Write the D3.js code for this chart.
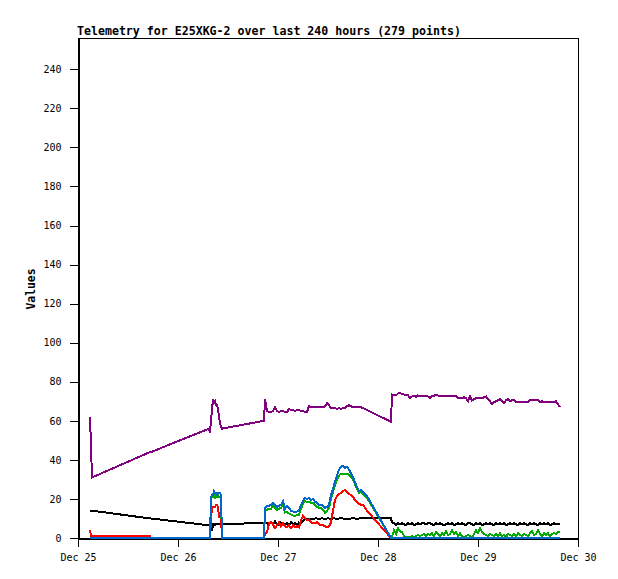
<!DOCTYPE html>
<html>
<head>
<meta charset="utf-8">
<script src="https://cdn.jsdelivr.net/npm/d3@7"></script>
<style>
  html, body { margin: 0; padding: 0; background: #fff; }
  svg { display: block; }
  .tick text { font-family: "DejaVu Sans Mono", monospace; font-size: 10px; fill: #000; }
</style>
</head>
<body>
<svg id="chart" width="618" height="579"></svg>
<script>
// ---- data (hours since Dec 25 00:00 UTC) ----
const hours = [
  2.88, 3.12, 3.36, 17.28, 17.52, 31.44, 31.68, 31.92, 32.16, 32.4,
  32.64, 32.88, 33.12, 33.36, 33.6, 33.84, 34.08, 34.32, 34.56, 44.64,
  44.88, 45.36, 45.84, 46.32, 46.8, 47.28, 47.76, 48.24, 48.72, 49.2,
  49.68, 50.16, 50.64, 51.12, 51.6, 52.08, 52.56, 53.04, 53.52, 54.0,
  54.48, 54.96, 55.44, 55.92, 56.4, 56.88, 57.36, 57.84, 58.32, 58.8,
  59.28, 59.76, 60.24, 60.72, 61.2, 61.68, 62.16, 62.64, 63.12, 63.6,
  64.08, 64.56, 65.04, 65.52, 66.0, 66.48, 66.96, 67.44, 67.92, 68.4,
  68.88, 69.36,
  75.12,
  75.36, 75.84, 76.32, 76.8, 77.28, 77.76, 78.24, 78.72, 79.2, 79.68,
  80.16, 80.64, 81.12, 81.6, 82.08, 82.56, 83.04, 83.52, 84.0, 84.48,
  84.96, 85.44, 85.92, 86.4, 86.88, 87.36, 87.84, 88.32, 88.8, 89.28,
  89.76, 90.24, 90.72, 91.2, 91.68, 92.16, 92.64, 93.12, 93.6, 94.08,
  94.56, 95.04, 95.52, 96.0, 96.48, 96.96, 97.44, 97.92, 98.4, 98.88,
  99.36, 99.84, 100.32, 100.8, 101.28, 101.76, 102.24, 102.72, 103.2, 103.68,
  104.16, 104.64, 105.12, 105.6, 106.08, 106.56, 107.04, 107.52, 108.0, 108.48,
  108.96, 109.44, 109.92, 110.4, 110.88, 111.36, 111.84, 112.32, 112.8, 113.28,
  113.76, 114.24, 114.72, 115.2, 115.68
];

const purpleSeries = [
  62, 47, 31, 44, 44, 56, 54, 60, 66, 71,
  69, 70, 68, 68, 66, 62, 59, 57, 56, 60,
  71, 65, 64.5, 64.5, 65, 67, 65, 64.5, 65, 65,
  64.5, 64.5, 66, 65.5, 65.5, 65, 65.5, 65.5, 65, 65,
  64.5, 64.5, 67.5, 67, 67, 67, 67, 67, 67, 67,
  67.5, 69, 68, 66.5, 66.5, 66.5, 66, 66.5, 66, 66.5,
  66.5, 67.5, 68, 67.5, 67, 67, 67, 67, 67, 66.5,
  66, 65.5,
  59.5,
  73.5, 73, 73, 74, 74.5, 73.5, 73.5, 73, 73, 71.5,
  72.5, 73, 72, 73, 72.5, 73, 72.5, 73, 72.5, 71.5,
  72.5, 72.5, 73.5, 73, 72.5, 73, 72.5, 72.5, 72.5, 72.5,
  72.5, 72.5, 72.5, 71.5, 71.5, 71.5, 72, 71.5, 70, 72.5,
  70.5, 71, 71.5, 71.5, 71.5, 71.5, 72, 72.5, 71, 70,
  68.5, 69.5, 70, 70.5, 71, 70, 69, 70.5, 71, 70,
  70.5, 70.5, 69.5, 69.5, 69.5, 69.5, 69.5, 69.5, 69.5, 70.5,
  70.5, 70.5, 70.5, 70.5, 69.5, 70, 69.5, 69.5, 69.5, 69.5,
  69.5, 69.5, 70, 68.5, 67
];

const blueSeries = [
  0, 0, 0, 0, 0, 0, 0, 21, 22, 22,
  24, 23, 23, 22, 23, 23, 23, 22, 0, 0,
  15.5, 16.5, 16.5, 17, 18, 17, 16, 16.5, 17, 19,
  15, 16.5, 15.5, 14, 13.5, 13.5, 13.5, 14, 17, 19,
  20.5, 20, 20.5, 19.5, 20, 18.5, 18, 17, 17, 16.5,
  15.5, 16, 17, 22, 25, 29, 32, 35, 36.5, 37,
  36, 36.5, 35, 33, 31, 28.5, 26, 24, 24.5, 23.5,
  22.5, 21.5,
  0,
  0, 0, 0, 0, 0, 0, 0, 0, 0, 0,
  0, 0, 0, 0, 0, 0, 0, 0, 0, 0,
  0, 0, 0, 0, 0, 0, 0, 0, 0, 0,
  0, 0, 0, 0, 0, 0, 0, 0, 0, 0,
  0, 0, 0, 0, 0, 0, 0, 0, 0, 0,
  0, 0, 0, 0, 0, 0, 0, 0, 0, 0,
  0, 0, 0, 0, 0, 0, 0, 0, 0, 0,
  0, 0, 0, 0, 0, 0, 0, 0, 0, 0,
  0, 0, 0, 0, 0
];

const greenSeries = [
  0, 0, 0, 0, 0, 0, 0, 20, 21, 21,
  22, 20, 22, 21, 22, 21, 21, 20, 0, 0,
  14, 14.5, 15, 15, 16.5, 15.5, 14.5, 15, 15.5, 17,
  13, 13.5, 12.5, 12, 11.5, 11, 12, 12, 15, 17.5,
  19, 18.5, 18.5, 18, 18, 17, 16, 15.5, 15.5, 14.5,
  13, 14, 15.5, 20, 23.5, 27, 30, 32, 33, 33,
  33, 33, 32.5, 31, 30, 27.5, 25, 23, 23.5, 22.5,
  21.5, 20.5,
  0,
  0.5, 4, 2, 5, 3.5, 3, 1, 0.5, 0.5, 0.5,
  1, 0.5, 1, 1.5, 1, 1.5, 2, 1, 2, 1.5,
  2.5, 1, 3, 2, 1, 2.5, 1.5, 3.5, 1.5, 2,
  4, 2, 3, 1, 2.5, 1, 0.5, 1, 1.5, 1,
  0.5, 2, 4, 2.5, 5, 3, 2, 1.5, 1, 2,
  1.5, 1, 2, 1, 2.5, 1, 1.5, 0.5, 2, 1.5,
  1, 2, 1, 2.5, 1.5, 1, 2, 1.5, 1, 2.5,
  3.5, 1.5, 2, 4, 2, 1, 2.5, 1.5, 2.5, 1,
  2, 2.5, 2, 3, 3
];

const redSeries = [
  4, 1, 1, 1, 0, 0, 0, 10, 15, 16,
  16, 16, 17, 17, 16, 11, 11, 11, 0, 0,
  2, 3, 7.5, 8, 7, 5, 6.5, 8, 6, 7.5,
  6, 5.5, 6.5, 5, 6.5, 5.5, 6, 5.5, 9, 11.5,
  10, 9, 9.5, 8, 7.5, 7.5, 8, 7, 6.5, 6.5,
  6, 5.5, 6, 8, 14, 19.5, 21.5, 22.5, 23, 24,
  24.5, 23.5, 22.5, 22, 21, 19.5, 18.5, 17.5, 17, 17,
  15.5, 14,
  0,
  0, 0, 0, 0, 0, 0, 0, 0, 0, 0,
  0, 0, 0, 0, 0, 0, 0, 0, 0, 0,
  0, 0, 0, 0, 0, 0, 0, 0, 0, 0,
  0, 0, 0, 0, 0, 0, 0, 0, 0, 0,
  0, 0, 0, 0, 0, 0, 0, 0, 0, 0,
  0, 0, 0, 0, 0, 0, 0, 0, 0, 0,
  0, 0, 0, 0, 0, 0, 0, 0, 0, 0,
  0, 0, 0, 0, 0, 0, 0, 0, 0, 0,
  0, 0, 0, 0, 0
];

const blackSeries = [
  14, 14, 14, 10, 10, 6.5, 7, 7, 3.5, 7,
  7, 6.5, 7, 7, 7, 7, 7, 7, 7, 7.8,
  8, 7.5, 7, 8, 7, 8.5, 7, 6.5, 8, 7.5,
  6.5, 7.5, 6.5, 8, 7, 7.5, 6.5, 8, 7.5, 8.5,
  9.5, 10, 9.5, 10, 9.5, 10, 10, 9.5, 10, 10,
  9.5, 10, 10, 9.5, 10, 10, 9.5, 10, 10, 10,
  9.5, 10, 9.5, 10, 10, 10, 9.5, 10, 10, 10,
  10, 10,
  10,
  8, 7.5, 6.5, 7.5, 7, 7.5, 7, 6.5, 7.5, 7,
  7.5, 6.5, 7, 7.5, 7, 7.5, 7.5, 7, 7.5, 7.5,
  7, 6.5, 7.5, 7, 7.5, 7, 6.5, 7, 7.5, 7,
  7.5, 6.5, 7, 7.5, 7, 7.5, 7, 6.5, 7.5, 7.5,
  7, 6.5, 7.5, 7, 7.5, 6.5, 7, 7.5, 7, 7.5,
  7, 6.5, 7.5, 7, 7.5, 7, 7.5, 6.5, 7, 7.5,
  7, 7.5, 7, 6.5, 7.5, 7, 7.5, 7, 6.5, 7.5,
  7, 7.5, 7, 6.5, 7.5, 7, 7.5, 7, 7.5, 6.5,
  7, 7.5, 7, 7, 7
];

const yTicks = [0, 20, 40, 60, 80, 100, 120, 140, 160, 180, 200, 220, 240];
const titleText = "Telemetry for E25XKG-2 over last 240 hours (279 points)";
const yLabelText = "Values";

// ---- layout ----
const margin = { left: 78, top: 38, width: 500, height: 500 };
const svg = d3.select("#chart");
const base = Date.UTC(2023, 11, 25);
const toDate = h => new Date(base + h * 3600000);

const x = d3.scaleUtc()
  .domain([new Date(Date.UTC(2023, 11, 25)), new Date(Date.UTC(2023, 11, 30))])
  .range([margin.left, margin.left + margin.width]);
const y = d3.scaleLinear()
  .domain([0, 256])
  .range([margin.top + margin.height, margin.top]);

// frame
svg.append("rect")
  .attr("x", margin.left + 0.5).attr("y", margin.top + 0.5)
  .attr("width", margin.width).attr("height", margin.height)
  .attr("fill", "none").attr("stroke", "#000").attr("stroke-width", 1)
  .attr("shape-rendering", "crispEdges");

const series = [
  { values: blackSeries, color: "#000000" },
  { values: redSeries, color: "#ff0000" },
  { values: greenSeries, color: "#00aa00" },
  { values: blueSeries, color: "#0066cc" },
  { values: purpleSeries, color: "#800080" }
];

const line = d3.line()
  .x(d => x(d.t))
  .y(d => y(d.v));

series.forEach(s => {
  const pts = hours.map((h, i) => ({ t: toDate(h), v: s.values[i] }));
  svg.append("path")
    .datum(pts)
    .attr("d", line)
    .attr("fill", "none")
    .attr("stroke", s.color)
    .attr("stroke-width", 2)
    .attr("stroke-linejoin", "miter")
    .attr("shape-rendering", "crispEdges");
});

// axes
const xAxis = d3.axisBottom(x)
  .ticks(d3.utcDay.every(1))
  .tickFormat(d3.utcFormat("%b %d"))
  .tickSize(8).tickSizeOuter(0).tickPadding(7);
const gx = svg.append("g")
  .attr("transform", `translate(0,${margin.top + margin.height + 0.5})`)
  .call(xAxis);

const yAxis = d3.axisLeft(y)
  .tickValues(yTicks)
  .tickSize(9).tickSizeOuter(0).tickPadding(8);
const gy = svg.append("g")
  .attr("transform", `translate(${margin.left + 0.5},0)`)
  .call(yAxis);

[gx, gy].forEach(g => {
  g.selectAll("path, line").attr("stroke", "#000").attr("shape-rendering", "crispEdges");
});

// title
svg.append("text")
  .attr("x", 77).attr("y", 35)
  .attr("font-family", "DejaVu Sans Mono, monospace")
  .attr("font-size", "11.6px")
  .attr("font-weight", "bold")
  .attr("fill", "#000")
  .text(titleText);

// y label
svg.append("text")
  .attr("transform", "translate(35,289) rotate(-90)")
  .attr("text-anchor", "middle")
  .attr("font-family", "DejaVu Sans Mono, monospace")
  .attr("font-size", "11.4px")
  .attr("font-weight", "bold")
  .attr("fill", "#000")
  .text(yLabelText);
</script>
</body>
</html>
